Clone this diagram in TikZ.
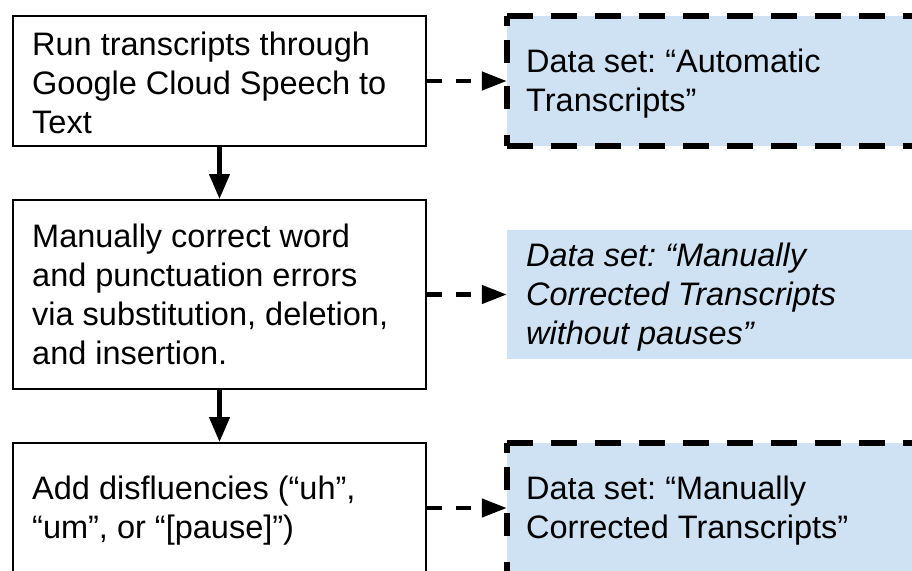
\documentclass[tikz,border=0pt]{standalone}
\usepackage{fontspec}
\setmainfont{Liberation Sans}
\usetikzlibrary{arrows.meta}
\definecolor{dsblue}{HTML}{CFE2F3}
\frenchspacing
\begin{document}
\begin{tikzpicture}[x=1pt,y=-1pt,
  stepbox/.style={draw=black, line width=2pt, rectangle, inner sep=0pt, minimum width=413pt},
  dsbox/.style={fill=dsblue, draw=none, rectangle, inner sep=0pt, minimum width=473pt},
  dsborder/.style={draw=black, line width=5.5pt, dash pattern=on 26pt off 18pt},
  dsleft/.style={draw=black, line width=5.5pt, dash pattern=on 10pt off 14pt on 23pt off 23pt on 23pt off 26pt on 20pt off 10pt},
  txt/.style={inner sep=0pt, anchor=base west, font=\fontsize{32.5}{39}\selectfont},
  flowarrow/.style={line width=4.5pt, -{Triangle[length=25pt,width=20pt]}},
  dsarrow/.style={line width=4.5pt, dash pattern=on 15pt off 14pt, -{Triangle[length=25pt,width=18pt]}}
]
\path[use as bounding box] (0,0) rectangle (912,570);
\clip (0,0) rectangle (912,570);

% left process boxes
\node[stepbox, minimum height=130pt] (b1) at (219.5,81) {};
\node[stepbox, minimum height=189pt] (b2) at (219.5,294.5) {};
\node[stepbox, minimum height=130pt] (b3) at (219.5,508) {};

% right data set boxes
\node[dsbox, minimum height=130pt] (r1) at (743.5,81) {};
\node[dsbox, minimum height=129pt] (r2) at (743.5,294.5) {};
\node[dsbox, minimum height=130pt] (r3) at (743.5,508) {};

% dashed borders of r1 and r3
\draw[dsborder] (r1.north west) -- (r1.north east);
\draw[dsleft] (r1.north west) -- (r1.south west);
\draw[dsborder] (r1.south west) -- (r1.south east);
\draw[dsborder] (r3.north west) -- (r3.north east);
\draw[dsleft] (r3.north west) -- (r3.south west);

% texts
\node[txt] (t1) at (32,55) {\parbox[t]{385pt}{Run transcripts through\\Google Cloud Speech to\\Text}};
\node[txt] (t2) at (32,247) {\parbox[t]{385pt}{Manually correct word\\and punctuation errors\\via substitution, deletion,\\and insertion.}};
\node[txt] (t3) at (32,499) {\parbox[t]{385pt}{Add disfluencies (“uh”,\\“um”, or “[pause]”)}};
\node[txt] (u1) at (526,72) {\parbox[t]{380pt}{Data set: “Automatic\\Transcripts”}};
\node[txt] (u2) at (526,266) {\parbox[t]{380pt}{\itshape Data set: “Manually\\Corrected Transcripts\\without pauses”}};
\node[txt] (u3) at (526,499) {\parbox[t]{380pt}{Data set: “Manually\\Corrected Transcripts”}};

% connectors
\draw[flowarrow] (b1.south) -- (b2.north);
\draw[flowarrow] (b2.south) -- (b3.north);
\draw[dsarrow] (b1.east) -- (r1.west);
\draw[dsarrow] (b2.east) -- (r2.west);
\draw[dsarrow] (b3.east) -- (r3.west);
\end{tikzpicture}
\end{document}
